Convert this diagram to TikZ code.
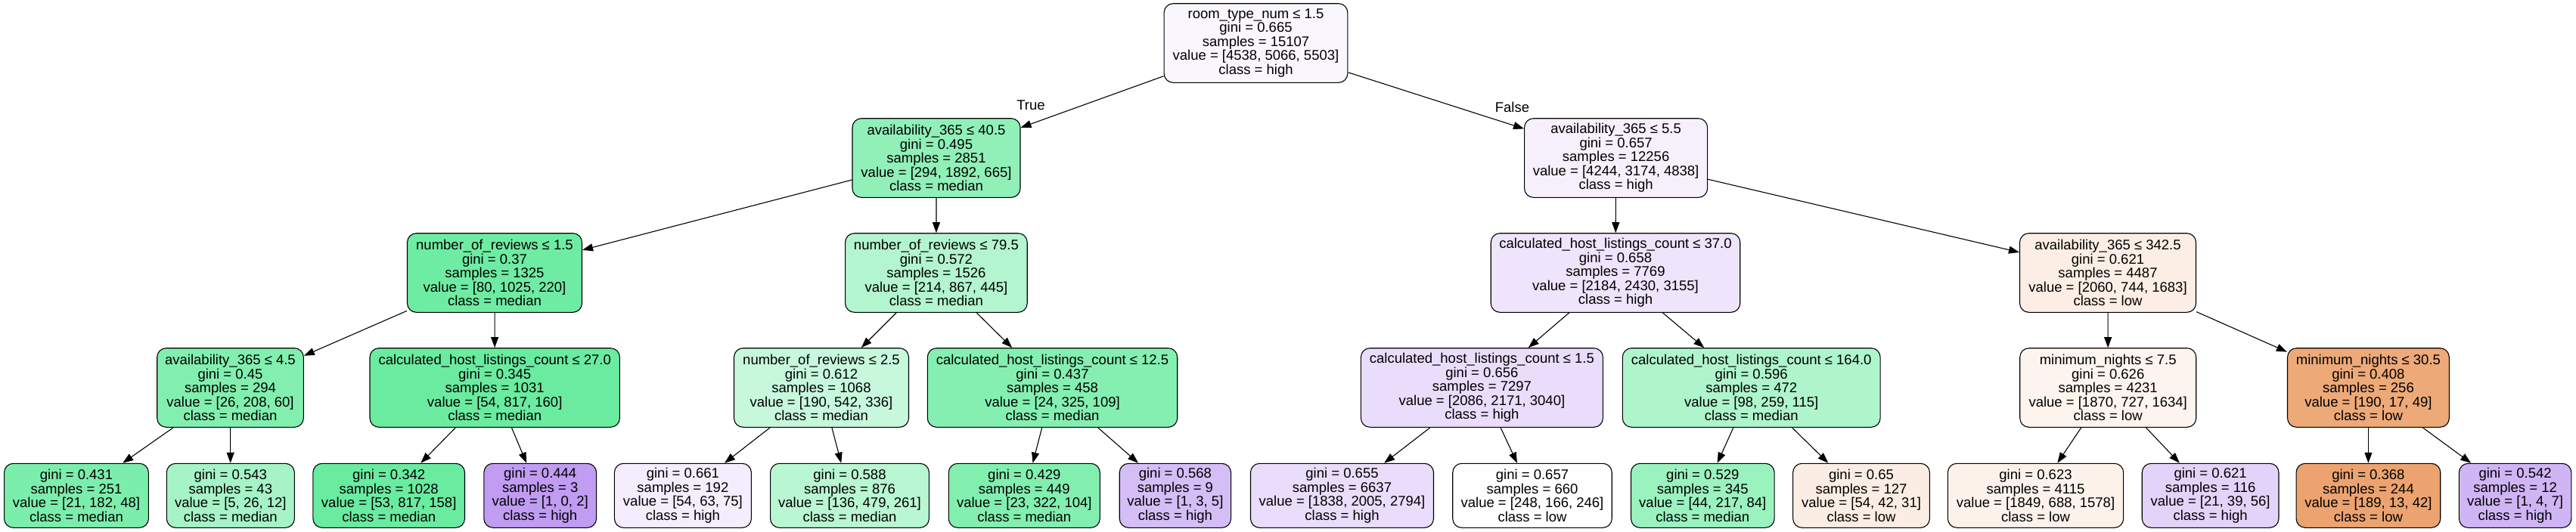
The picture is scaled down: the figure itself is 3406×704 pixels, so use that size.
\documentclass[tikz,border=0pt]{standalone}
\usepackage{fontspec}
\setmainfont{Liberation Sans}
\usetikzlibrary{arrows.meta}
\definecolor{clow}{RGB}{229,129,57}
\definecolor{cmed}{RGB}{57,229,129}
\definecolor{chigh}{RGB}{129,57,229}
\tikzset{
  tnode/.style={draw=black, line width=1.1pt, rounded corners=12pt, align=center,
    font=\fontsize{18.5}{18.5}\selectfont, inner sep=0pt, minimum height=104.6pt},
  tleaf/.style={tnode, minimum height=85pt},
  tedge/.style={line width=1.1pt, -{Triangle[length=14pt,width=10pt]}},
  tlbl/.style={font=\fontsize{18.5}{18.5}\selectfont, inner sep=0pt}
}
\begin{document}
\begin{tikzpicture}[x=1pt,y=-1pt]
\fill[white] (0,0) rectangle (3406,704);
\useasboundingbox (0,0) rectangle (3406,704);
% level 0
\node[tnode, fill=chigh!4.35, minimum width=242.7pt] (n0) at (1660.5,57) {room\_type\_num ≤ 1.5\\gini = 0.665\\samples = 15107\\value = [4538, 5066, 5503]\\class = high};
% level 1
\node[tnode, fill=cmed!56.1, minimum width=222pt] (n1a) at (1238,209) {availability\_365 ≤ 40.5\\gini = 0.495\\samples = 2851\\value = [294, 1892, 665]\\class = median};
\node[tnode, fill=chigh!7.4, minimum width=242pt] (n1b) at (2136.6,209) {availability\_365 ≤ 5.5\\gini = 0.657\\samples = 12256\\value = [4244, 3174, 4838]\\class = high};
% level 2
\node[tnode, fill=cmed!72.9, minimum width=231pt] (n2a) at (654,361) {number\_of\_reviews ≤ 1.5\\gini = 0.37\\samples = 1325\\value = [80, 1025, 220]\\class = median};
\node[tnode, fill=cmed!39, minimum width=240.6pt] (n2b) at (1237.9,361) {number\_of\_reviews ≤ 79.5\\gini = 0.572\\samples = 1526\\value = [214, 867, 445]\\class = median};
\node[tnode, fill=chigh!13.6, minimum width=329.5pt] (n2c) at (2136,361) {calculated\_host\_listings\_count ≤ 37.0\\gini = 0.658\\samples = 7769\\value = [2184, 2430, 3155]\\class = high};
\node[tnode, fill=clow!13.4, minimum width=233pt] (n2d) at (2787,361) {availability\_365 ≤ 342.5\\gini = 0.621\\samples = 4487\\value = [2060, 744, 1683]\\class = low};
% level 3
\node[tnode, fill=cmed!63.3, minimum width=193.6pt] (n3a) at (304.5,513) {availability\_365 ≤ 4.5\\gini = 0.45\\samples = 294\\value = [26, 208, 60]\\class = median};
\node[tnode, fill=cmed!75.4, minimum width=330.4pt] (n3b) at (654.2,513) {calculated\_host\_listings\_count ≤ 27.0\\gini = 0.345\\samples = 1031\\value = [54, 817, 160]\\class = median};
\node[tnode, fill=cmed!28.1, minimum width=231pt] (n3c) at (1086,513) {number\_of\_reviews ≤ 2.5\\gini = 0.612\\samples = 1068\\value = [190, 542, 336]\\class = median};
\node[tnode, fill=cmed!61.9, minimum width=330.4pt] (n3d) at (1391.5,513) {calculated\_host\_listings\_count ≤ 12.5\\gini = 0.437\\samples = 458\\value = [24, 325, 109]\\class = median};
\node[tnode, fill=chigh!17, minimum width=320pt] (n3e) at (1959.4,513) {calculated\_host\_listings\_count ≤ 1.5\\gini = 0.656\\samples = 7297\\value = [2086, 2171, 3040]\\class = high};
\node[tnode, fill=cmed!40.3, minimum width=340.8pt] (n3f) at (2315.7,513) {calculated\_host\_listings\_count ≤ 164.0\\gini = 0.596\\samples = 472\\value = [98, 259, 115]\\class = median};
\node[tnode, fill=clow!9.1, minimum width=233pt] (n3g) at (2787.2,513) {minimum\_nights ≤ 7.5\\gini = 0.626\\samples = 4231\\value = [1870, 727, 1634]\\class = low};
\node[tnode, fill=clow!68.1, minimum width=213.8pt] (n3h) at (3131.4,513) {minimum\_nights ≤ 30.5\\gini = 0.408\\samples = 256\\value = [190, 17, 49]\\class = low};
% leaves
\node[tleaf, fill=cmed!66, minimum width=190.8pt] (l1) at (101,655.8) {gini = 0.431\\samples = 251\\value = [21, 182, 48]\\class = median};
\node[tleaf, fill=cmed!45.2, minimum width=169pt] (l2) at (304.8,655.8) {gini = 0.543\\samples = 43\\value = [5, 26, 12]\\class = median};
\node[tleaf, fill=cmed!75.7, minimum width=200.6pt] (l3) at (514.2,655.8) {gini = 0.342\\samples = 1028\\value = [53, 817, 158]\\class = median};
\node[tleaf, fill=chigh!50, minimum width=148.7pt] (l4) at (714.2,655.8) {gini = 0.444\\samples = 3\\value = [1, 0, 2]\\class = high};
\node[tleaf, fill=chigh!9.3, minimum width=181pt] (l5) at (902.9,655.8) {gini = 0.661\\samples = 192\\value = [54, 63, 75]\\class = high};
\node[tleaf, fill=cmed!35.4, minimum width=209.8pt] (l6) at (1123.5,655.8) {gini = 0.588\\samples = 876\\value = [136, 479, 261]\\class = median};
\node[tleaf, fill=cmed!63.2, minimum width=200pt] (l7) at (1354.3,655.8) {gini = 0.429\\samples = 449\\value = [23, 322, 104]\\class = median};
\node[tleaf, fill=chigh!33.3, minimum width=147.3pt] (l8) at (1553.9,655.8) {gini = 0.568\\samples = 9\\value = [1, 3, 5]\\class = high};
\node[tleaf, fill=chigh!17, minimum width=242pt] (l9) at (1774.5,655.8) {gini = 0.655\\samples = 6637\\value = [1838, 2005, 2794]\\class = high};
\node[tleaf, fill=clow!0.5, minimum width=210.5pt] (l10) at (2026,655.8) {gini = 0.657\\samples = 660\\value = [248, 166, 246]\\class = low};
\node[tleaf, fill=cmed!51, minimum width=189.6pt] (l11) at (2251.3,655.8) {gini = 0.529\\samples = 345\\value = [44, 217, 84]\\class = median};
\node[tleaf, fill=clow!14.1, minimum width=180.8pt] (l12) at (2461,655.8) {gini = 0.65\\samples = 127\\value = [54, 42, 31]\\class = low};
\node[tleaf, fill=clow!10.7, minimum width=232.3pt] (l13) at (2691.5,655.8) {gini = 0.623\\samples = 4115\\value = [1849, 688, 1578]\\class = low};
\node[tleaf, fill=chigh!22.1, minimum width=180.7pt] (l14) at (2922.6,655.8) {gini = 0.621\\samples = 116\\value = [21, 39, 56]\\class = high};
\node[tleaf, fill=clow!72.8, minimum width=190.7pt] (l15) at (3131.4,655.8) {gini = 0.368\\samples = 244\\value = [189, 13, 42]\\class = low};
\node[tleaf, fill=chigh!37.5, minimum width=148.4pt] (l16) at (3325.6,655.8) {gini = 0.542\\samples = 12\\value = [1, 4, 7]\\class = high};
% edges
\draw[tedge] (n0) -- (n1a);
\draw[tedge] (n0) -- (n1b);
\node[tlbl] (ltrue) at (1363,139) {True};
\node[tlbl] (lfalse) at (1999.4,141.5) {False};
\draw[tedge] (n1a) -- (n2a);
\draw[tedge] (n1a) -- (n2b);
\draw[tedge] (n1b) -- (n2c);
\draw[tedge] (n1b) -- (n2d);
\draw[tedge] (n2a) -- (n3a);
\draw[tedge] (n2a) -- (n3b);
\draw[tedge] (n2b) -- (n3c);
\draw[tedge] (n2b) -- (n3d);
\draw[tedge] (n2c) -- (n3e);
\draw[tedge] (n2c) -- (n3f);
\draw[tedge] (n2d) -- (n3g);
\draw[tedge] (n2d) -- (n3h);
\draw[tedge] (n3a) -- (l1);
\draw[tedge] (n3a) -- (l2);
\draw[tedge] (n3b) -- (l3);
\draw[tedge] (n3b) -- (l4);
\draw[tedge] (n3c) -- (l5);
\draw[tedge] (n3c) -- (l6);
\draw[tedge] (n3d) -- (l7);
\draw[tedge] (n3d) -- (l8);
\draw[tedge] (n3e) -- (l9);
\draw[tedge] (n3e) -- (l10);
\draw[tedge] (n3f) -- (l11);
\draw[tedge] (n3f) -- (l12);
\draw[tedge] (n3g) -- (l13);
\draw[tedge] (n3g) -- (l14);
\draw[tedge] (n3h) -- (l15);
\draw[tedge] (n3h) -- (l16);
\end{tikzpicture}
\end{document}
